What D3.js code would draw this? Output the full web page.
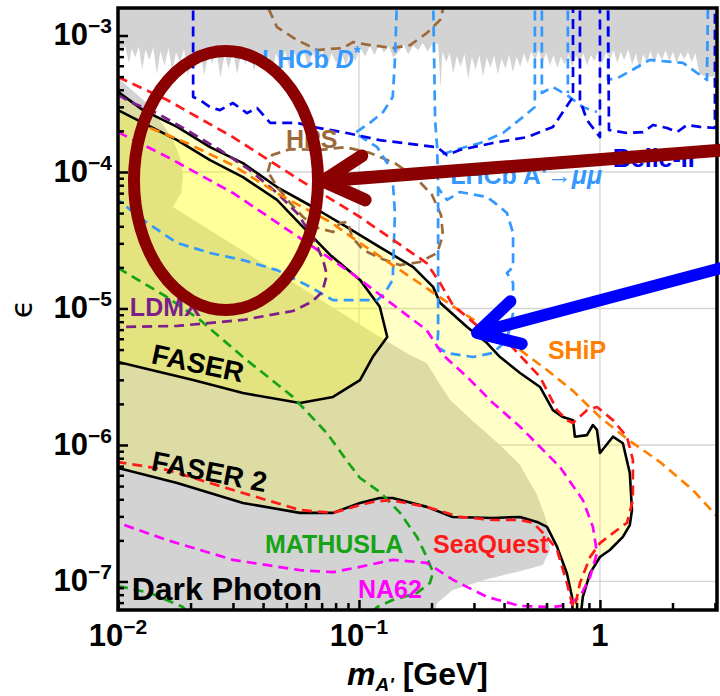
<!DOCTYPE html>
<html>
<head>
<meta charset="utf-8">
<script src="https://cdn.jsdelivr.net/npm/d3@7"></script>
<style>
  html, body { margin: 0; padding: 0; background: #fff; }
  svg { display: block; font-family: "Liberation Sans", Arial, sans-serif; }
</style>
</head>
<body>
<svg id="chart" width="720" height="696"></svg>
<script>
// values: [m_A' in GeV, epsilon]

// existing limits from above (jagged lower edge)
const topGrayEdge = [
  [0.0100,8.6e-4],[0.0104,7.4e-4],[0.0107,8.4e-4],[0.0111,6.3e-4],[0.0114,8.0e-4],[0.0118,6.9e-4],
  [0.0122,8.3e-4],[0.0126,5.6e-4],[0.0130,7.9e-4],[0.0135,6.6e-4],[0.0140,8.2e-4],[0.0145,5.2e-4],
  [0.0150,7.7e-4],[0.0156,6.0e-4],[0.0162,8.1e-4],[0.0168,5.4e-4],[0.0174,7.5e-4],[0.0181,6.4e-4],
  [0.0188,8.0e-4],[0.0195,5.0e-4],[0.0203,7.6e-4],[0.0211,5.8e-4],[0.0219,7.9e-4],[0.0228,5.1e-4],
  [0.0237,7.4e-4],[0.0246,6.2e-4],[0.0256,7.8e-4],[0.0266,4.9e-4],[0.0277,7.3e-4],[0.0288,5.7e-4],
  [0.0300,7.7e-4],[0.0312,5.2e-4],[0.0325,7.5e-4],[0.0338,6.1e-4],[0.0352,7.9e-4],[0.0367,5.5e-4],
  [0.0383,7.6e-4],[0.0399,6.3e-4],[0.0416,7.8e-4],[0.0434,5.4e-4],[0.0453,7.4e-4],[0.0473,6.0e-4],
  [0.0494,7.7e-4],[0.0516,5.6e-4],[0.0539,7.5e-4],[0.0563,6.4e-4],[0.0588,7.9e-4],[0.0615,5.8e-4],
  [0.0643,7.6e-4],[0.0672,6.2e-4],[0.0703,7.8e-4],[0.0735,5.7e-4],[0.0769,7.4e-4],[0.0805,6.3e-4],
  [0.0843,7.8e-4],[0.0882,6.0e-4],[0.0923,7.7e-4],[0.0966,6.5e-4],[0.101,8.2e-4],[0.106,7.0e-4],
  [0.111,8.4e-4],[0.116,7.2e-4],[0.121,8.5e-4],[0.127,7.5e-4],[0.133,8.3e-4],[0.139,6.9e-4],
  [0.146,7.6e-4],[0.153,8.6e-4],[0.160,7.3e-4],[0.168,8.4e-4],[0.176,7.8e-4],[0.184,8.8e-4],
  [0.193,7.6e-4],[0.202,8.8e-4],[0.213,8.7e-4],[0.218,4.1e-4],[0.222,7.6e-4],[0.230,6.4e-4],
  [0.238,7.4e-4],[0.246,5.3e-4],[0.255,7.1e-4],[0.264,5.9e-4],[0.274,7.3e-4],[0.284,4.8e-4],
  [0.294,7.0e-4],[0.305,5.6e-4],[0.316,7.2e-4],[0.327,5.0e-4],[0.339,6.9e-4],[0.351,5.8e-4],
  [0.364,7.1e-4],[0.377,5.2e-4],[0.391,6.8e-4],[0.405,5.7e-4],[0.420,7.2e-4],[0.435,5.4e-4],
  [0.451,7.0e-4],[0.467,5.9e-4],[0.484,7.4e-4],[0.501,6.2e-4],[0.519,7.6e-4],[0.538,6.6e-4],
  [0.557,7.8e-4],[0.577,6.3e-4],[0.598,7.5e-4],[0.620,6.0e-4],[0.642,7.2e-4],[0.665,5.8e-4],
  [0.689,7.0e-4],[0.714,6.1e-4],[0.740,7.3e-4],[0.767,5.9e-4],[0.795,7.1e-4],[0.824,6.4e-4],
  [0.853,7.4e-4],[0.884,6.0e-4],[0.916,7.2e-4],[0.949,6.5e-4],[0.983,7.6e-4],[1.02,6.2e-4],
  [1.06,7.5e-4],[1.10,6.7e-4],[1.14,7.8e-4],[1.18,6.3e-4],[1.22,7.6e-4],[1.26,6.6e-4],
  [1.31,7.9e-4],[1.36,6.1e-4],[1.41,7.4e-4],[1.46,5.6e-4],[1.51,7.3e-4],[1.57,6.4e-4],
  [1.62,7.7e-4],[1.68,6.2e-4],[1.74,7.5e-4],[1.81,6.6e-4],[1.87,7.8e-4],[1.94,6.5e-4],
  [2.01,7.6e-4],[2.08,6.3e-4],[2.16,7.5e-4],[2.24,6.7e-4],[2.32,7.6e-4],[2.40,6.4e-4],
  [2.49,7.4e-4],[2.58,5.3e-4],[2.68,5.1e-4],[2.78,5.0e-4],[2.88,5.0e-4],[3.2,5.0e-4]
];

// beam dump limits from below
const beamDump = [
  [0.009,4.89e-4],[0.0100,4.89e-4],[0.0118,3.79e-4],[0.0136,3.05e-4],[0.0149,2.40e-4],[0.0168,1.77e-4],
  [0.0181,1.27e-4],[0.0186,9.51e-5],[0.0183,7.02e-5],[0.0169,5.54e-5],[0.0321,2.73e-5],[0.0569,1.44e-5],
  [0.122,6.18e-6],[0.163,4.56e-6],[0.191,3.99e-6],[0.211,2.99e-6],[0.239,2.14e-6],[0.303,1.45e-6],
  [0.385,1.0e-6],[0.466,7.13e-7],[0.548,4.31e-7],[0.603,2.73e-7],[0.621,1.70e-7],[0.579,1.32e-7],
  [0.466,1.19e-7],[0.340,1.04e-7],[0.245,8.67e-8],[0.211,6.95e-8],[0.201,5e-8],[0.009,5e-8]
];

const faser2Region = [
  [0.0100,3.86e-4],[0.0127,2.84e-4],[0.0176,2.14e-4],[0.0241,1.52e-4],[0.0330,1.16e-4],[0.0457,7.76e-5],
  [0.0644,5.54e-5],[0.0891,3.95e-5],[0.122,2.82e-5],[0.168,2.01e-5],[0.203,1.44e-5],[0.217,1.10e-5],
  [0.281,7.32e-6],[0.340,5.58e-6],[0.385,4.41e-6],[0.466,3.37e-6],[0.564,2.66e-6],[0.638,1.80e-6],
  [0.702,1.60e-6],[0.773,1.52e-6],[0.787,1.15e-6],[0.883,1.18e-6],[0.935,1.40e-6],[0.972,1.29e-6],
  [1.00,8.73e-7],[1.132,1.15e-6],[1.245,1.03e-6],[1.33,6.24e-7],[1.358,3.34e-7],[1.33,2.59e-7],
  [1.245,2.12e-7],[1.099,1.70e-7],[1.00,1.51e-7],[0.910,1.15e-7],[0.849,7.7e-8],[0.826,5e-8],
  [0.773,5e-8],[0.766,7.7e-8],[0.729,1.15e-7],[0.664,1.79e-7],[0.603,2.51e-7],[0.548,2.73e-7],
  [0.466,2.97e-7],[0.360,2.92e-7],[0.245,2.97e-7],[0.191,3.52e-7],[0.138,4.09e-7],[0.122,4.09e-7],
  [0.101,3.76e-7],[0.078,3.18e-7],[0.0569,3.18e-7],[0.0330,3.76e-7],[0.0176,5.27e-7],[0.0100,6.79e-7]
];

const faserRegion = [
  [0.0100,2.84e-4],[0.0127,2.29e-4],[0.0176,1.71e-4],[0.0241,1.22e-4],[0.0330,9.18e-5],[0.0457,6.24e-5],
  [0.0569,4.16e-5],[0.0759,2.47e-5],[0.101,1.62e-5],[0.122,1.03e-5],[0.131,6.18e-6],[0.114,4.41e-6],
  [0.101,2.99e-6],[0.078,2.25e-6],[0.0569,2.03e-6],[0.0330,2.40e-6],[0.0205,2.99e-6],[0.0127,3.66e-6],
  [0.0100,4.06e-6]
];

const seaquest = [
  [0.0100,4.97e-4],[0.0160,3.37e-4],[0.0300,1.80e-4],[0.0569,8.73e-5],[0.101,4.68e-5],[0.191,2.15e-5],
  [0.217,1.54e-5],[0.245,1.06e-5],[0.318,7.19e-6],[0.424,5.41e-6],[0.564,3.15e-6],[0.664,1.80e-6],
  [0.729,1.52e-6],[0.773,1.45e-6],[0.883,1.80e-6],[0.972,1.90e-6],[1.132,1.52e-6],[1.294,1.15e-6],
  [1.37,7.76e-7],[1.37,3.95e-7],[1.294,2.69e-7],[1.132,2.26e-7],[1.00,1.91e-7],[0.910,1.51e-7],
  [0.826,9.75e-8],[0.787,6.50e-8],[0.773,6.50e-8],[0.729,9.75e-8],[0.664,1.70e-7],[0.603,2.12e-7],
  [0.527,2.69e-7],[0.466,2.82e-7],[0.360,2.82e-7],[0.262,2.97e-7],[0.191,3.52e-7],[0.135,3.95e-7],
  [0.114,3.82e-7],[0.101,3.63e-7],[0.078,3.18e-7],[0.0569,3.34e-7],[0.0300,4.68e-7],[0.0160,6.56e-7],
  [0.0100,7.50e-7]
];

const ship = [
  [0.0136,2.10e-4],[0.0193,1.63e-4],[0.0300,1.12e-4],[0.0470,6.79e-5],[0.0759,4.31e-5],[0.101,3.02e-5],
  [0.138,2.08e-5],[0.191,1.41e-5],[0.262,9.59e-6],[0.360,6.73e-6],[0.466,4.97e-6],[0.603,3.54e-6],
  [0.773,2.49e-6],[1.00,1.60e-6],[1.294,1.11e-6],[1.775,7.50e-7],[2.43,4.68e-7],[3.30,2.59e-7]
];

const na62 = [
  [0.0100,1.96e-4],[0.0160,1.29e-4],[0.0300,7.02e-5],[0.0569,3.28e-5],[0.0918,1.85e-5],[0.148,9.75e-6],
  [0.191,6.95e-6],[0.223,4.56e-6],[0.281,3.15e-6],[0.360,2.03e-6],[0.466,1.36e-6],[0.682,6.90e-7],
  [0.849,3.95e-7],[0.935,2.51e-7],[0.972,1.62e-7],[0.910,1.08e-7],[0.826,7.7e-8],[0.729,6.73e-8],
  [0.638,6.50e-8],[0.466,6.62e-8],[0.340,7.7e-8],[0.245,1.03e-7],[0.191,1.37e-7],[0.138,1.44e-7],
  [0.101,1.28e-7],[0.078,1.17e-7],[0.0569,1.21e-7],[0.0300,1.44e-7],[0.0160,2.01e-7],[0.0100,2.69e-7]
];

const lhcbDstar = [
  [0.144,2e-3],[0.141,6.62e-4],[0.138,3.54e-4],[0.126,2.75e-4],[0.111,2.29e-4],[0.0962,1.93e-4],
  [0.119,1.52e-4],[0.131,1.16e-4],[0.138,8.73e-5],[0.141,5.01e-5],[0.138,1.62e-5],[0.128,1.30e-5],
  [0.119,1.15e-5],[0.108,1.15e-5],[0.078,1.15e-5],[0.0627,1.44e-5],[0.0457,1.91e-5],[0.0330,2.26e-5],
  [0.0241,2.55e-5],[0.0176,3.02e-5],[0.0127,4.45e-5],[0.0100,6.24e-5]
];
const lhcbMuMu = [
  [0.203,2e-3],[0.207,2.40e-4],[0.211,1.52e-4],[0.213,7.76e-5],[0.213,2.01e-5],[0.213,6.62e-6],
  [0.211,5.22e-6],[0.232,4.72e-6],[0.297,4.41e-6],[0.360,4.72e-6],[0.411,5.87e-6],[0.436,9.27e-6],
  [0.436,1.54e-5],[0.411,1.82e-5],[0.436,2.01e-5],[0.436,3.57e-5],[0.411,5.01e-5],[0.385,5.54e-5],
  [0.340,6.56e-5],[0.262,7.13e-5],[0.232,6.24e-5],[0.213,7.64e-5]
];
const lhcbMid = [[0.537,2e-3],[0.537,2.99e-4],[0.479,2.53e-4],[0.396,1.93e-4],[0.318,1.63e-4],[0.250,1.45e-4],[0.217,1.33e-4]];
const lhcbSlit = [[0.574,2e-3],[0.574,3.79e-4],[0.638,4.20e-4],[0.729,3.66e-4],[0.849,2.99e-4],[0.972,2.75e-4]];
const lhcbSlit2 = [[0.736,2e-3],[0.736,3.79e-4]];
const lhcbHigh = [[1.08,2e-3],[1.08,4.72e-4],[1.21,4.97e-4],[1.61,6.62e-4],[2.21,6.30e-4],[2.78,4.72e-4],[2.81,2e-3]];

const belleA = [
  [0.0205,2e-3],[0.0205,3.54e-4],[0.0219,3.37e-4],[0.0241,2.99e-4],[0.0265,2.84e-4],[0.0300,3.20e-4],
  [0.0343,2.70e-4],[0.0378,2.94e-4],[0.0428,2.29e-4],[0.0553,2.29e-4],[0.0644,2.14e-4],[0.0891,1.93e-4],
  [0.122,1.71e-4],[0.211,1.52e-4],[0.232,1.33e-4],[0.262,1.45e-4],[0.360,1.63e-4],[0.498,1.80e-4],
  [0.638,2.14e-4],[0.773,3.54e-4],[0.773,2e-3]
];
const belleB = [[0.826,2e-3],[0.826,3.37e-4],[0.883,2.40e-4],[1.00,1.80e-4],[1.00,2e-3]];
const belleC = [
  [1.08,2e-3],[1.09,2.03e-4],[1.294,1.93e-4],[1.51,1.96e-4],[1.66,2.21e-4],[1.90,2.10e-4],
  [2.09,1.96e-4],[2.30,2.21e-4],[2.60,2.14e-4],[3.00,2.10e-4],[3.00,2e-3]
];

const hpsTop = [
  [0.0396,2e-3],[0.0457,1.15e-3],[0.0553,9.27e-4],[0.0670,7.83e-4],[0.0859,8.09e-4],[0.0944,8.95e-4],
  [0.111,8.51e-4],[0.138,8.09e-4],[0.163,8.51e-4],[0.191,1.04e-3],[0.217,1.30e-3],[0.232,2e-3]
];
const hpsLoop = [
  [0.0419,1.00e-4],[0.0436,1.33e-4],[0.0518,1.47e-4],[0.0689,1.45e-4],[0.0875,1.52e-4],[0.111,1.38e-4],
  [0.141,1.16e-4],[0.171,9.18e-5],[0.201,6.79e-5],[0.219,4.84e-5],[0.223,3.45e-5],[0.211,2.55e-5],
  [0.179,2.19e-5],[0.148,2.08e-5],[0.122,2.34e-5],[0.104,2.69e-5],[0.0935,3.34e-5],[0.0900,4.31e-5],
  [0.0834,4.23e-5],[0.078,3.63e-5],[0.0676,3.89e-5],[0.0586,4.68e-5],[0.0518,5.93e-5],[0.0461,7.64e-5],
  [0.0419,1.00e-4]
];

const ldmx = [
  [0.0100,3.66e-4],[0.0115,3.20e-4],[0.0145,2.70e-4],[0.0193,2.03e-4],[0.0265,1.45e-4],[0.0353,1.03e-4],
  [0.0457,7.02e-5],[0.0553,5.01e-5],[0.0644,3.34e-5],[0.0710,2.26e-5],[0.0736,1.76e-5],[0.0703,1.32e-5],
  [0.0638,1.12e-5],[0.0532,9.59e-6],[0.0330,8.24e-6],[0.0176,7.45e-6],[0.0100,7.32e-6]
];

const mathusla = [
  [0.0100,1.98e-5],[0.0160,1.21e-5],[0.0219,8.24e-6],[0.0330,4.41e-6],[0.0532,2.25e-6],[0.0736,1.22e-6],
  [0.0918,7.13e-7],[0.101,5.73e-7],[0.122,4.53e-7],[0.148,3.18e-7],[0.174,2.12e-7],[0.191,1.51e-7],
  [0.203,1.17e-7],[0.197,9.75e-8],[0.174,8.24e-8],[0.138,7.31e-8],[0.119,6.50e-8],[0.101,5e-8]
];
const mathuslaLow = [[0.0100,9.27e-8],[0.0136,8.24e-8],[0.0186,6.50e-8],[0.0209,5e-8]];

// axis ticks
const xTickLabels = [[0.01,"10","\u22122"],[0.1,"10","\u22121"],[1,"1",""]];
const yTickLabels = [[1e-3,"10","\u22123"],[1e-4,"10","\u22124"],[1e-5,"10","\u22125"],[1e-6,"10","\u22126"],[1e-7,"10","\u22127"]];
const xDecades = [0.01, 0.1, 1];
const yDecades = [1e-8, 1e-7, 1e-6, 1e-5, 1e-4, 1e-3];
const mantissas = [1, 2, 3, 4, 5, 6, 7, 8, 9];

const C = {
  red: "#ff1a1a", orange: "#ff8000", magenta: "#ff00ff", lblue: "#3399ff",
  dblue: "#0000ee", brown: "#9c6a3a", purple: "#7d1f8a", green: "#16a316",
  gray: "#d3d3d3", annot: "#8b0000"
};

// labels: anchor [m, eps], parts [text, style]
const labels = [
  { at: [0.0396, 5.78e-4], color: C.lblue, parts: [["LHCb ", ""], ["D", "i"], ["*", "sup"]] },
  { at: [0.0498, 1.50e-4], color: C.brown, parts: [["HPS", ""]] },
  { at: [0.239, 8.17e-5], color: C.lblue, parts: [["LHCb A'\u2192", ""], ["\u03bc\u03bc", "i"]] },
  { at: [1.13, 1.09e-4], color: C.dblue, parts: [["Belle-II", ""]] },
  { at: [0.608, 4.27e-6], color: C.orange, parts: [["SHiP", ""]] },
  { at: [0.0112, 8.81e-6], color: C.purple, parts: [["LDMX", ""]] },
  { at: [0.0136, 3.99e-6], color: "#000", parts: [["FASER", ""]], angle: 12, size: 28 },
  { at: [0.0136, 6.56e-7], color: "#000", parts: [["FASER 2", ""]], angle: 11, size: 28 },
  { at: [0.0407, 1.62e-7], color: C.green, parts: [["MATHUSLA", ""]] },
  { at: [0.203, 1.62e-7], color: C.red, parts: [["SeaQuest", ""]] },
  { at: [0.0991, 7.57e-8], color: C.magenta, parts: [["NA62", ""]] },
  { at: [0.0114, 7.31e-8], color: "#000", parts: [["Dark Photon", ""]], size: 32 }
];

// annotation ring and arrows
const ringBox = { mLeft: 0.01165, mRight: 0.0676, eTop: 7.69e-4, eBottom: 9.75e-6 };
const arrows = [
  { from: [3.3, 1.45e-4], to: [0.0710, 8.59e-5], color: C.annot, width: 13 },
  { from: [3.3, 2.01e-5], to: [0.309, 6.62e-6], color: "#0000ff", width: 12 }
];

/* ------------------ setup ------------------ */

const W = 720, H = 696;
const margin = { top: 8, right: 3, bottom: 86, left: 118 };
const svg = d3.select("#chart");

const x = d3.scaleLog().domain([0.01, 3.06]).range([margin.left, W - margin.right]);
const y = d3.scaleLog().domain([1.59e-3, 6.18e-8]).range([margin.top, H - margin.bottom]);

const line = d3.line().x(d => x(d[0])).y(d => y(d[1]));

svg.append("defs").append("clipPath").attr("id", "clip")
  .append("rect")
  .attr("x", margin.left).attr("y", margin.top)
  .attr("width", W - margin.left - margin.right)
  .attr("height", H - margin.top - margin.bottom);

const plot = svg.append("g").attr("clip-path", "url(#clip)");

/* ------------------ grid ------------------ */

plot.selectAll(".gx").data([0.1, 1]).join("line")
  .attr("x1", d => x(d)).attr("x2", d => x(d))
  .attr("y1", margin.top).attr("y2", H - margin.bottom)
  .attr("stroke", "#d4d4d4").attr("stroke-width", 1.3);

plot.selectAll(".gy").data([1e-7, 1e-6, 1e-5, 1e-4, 1e-3]).join("line")
  .attr("x1", margin.left).attr("x2", W - margin.right)
  .attr("y1", d => y(d)).attr("y2", d => y(d))
  .attr("stroke", "#d4d4d4").attr("stroke-width", 1.3);

/* ------------------ filled regions ------------------ */

plot.append("path")
  .attr("d", line([[0.009, 3e-3], [0.009, topGrayEdge[0][1]], ...topGrayEdge, [3.5, 5e-4], [3.5, 3e-3]]) + "Z")
  .attr("fill", C.gray);

plot.append("path")
  .attr("d", line(beamDump) + "Z")
  .attr("fill", C.gray);

[faser2Region, faserRegion].forEach(r => {
  plot.append("path")
    .attr("d", line(r) + "Z")
    .attr("fill", "#ffff00")
    .attr("fill-opacity", 0.22);
});

/* ------------------ curves ------------------ */

[faser2Region, faserRegion].forEach(r => {
  plot.append("path")
    .attr("d", line(r))
    .attr("fill", "none")
    .attr("stroke", "#000")
    .attr("stroke-width", 2.6)
    .attr("stroke-linejoin", "round");
});

const dashed = [
  [hpsTop, C.brown], [hpsLoop, C.brown],
  [lhcbDstar, C.lblue], [lhcbMuMu, C.lblue], [lhcbMid, C.lblue],
  [lhcbSlit, C.lblue], [lhcbSlit2, C.lblue], [lhcbHigh, C.lblue],
  [belleA, C.dblue], [belleB, C.dblue], [belleC, C.dblue],
  [mathusla, C.green], [mathuslaLow, C.green],
  [na62, C.magenta],
  [ldmx, C.purple],
  [ship, C.orange],
  [seaquest, C.red]
];

dashed.forEach(([data, color]) => {
  plot.append("path")
    .attr("d", line(data))
    .attr("fill", "none")
    .attr("stroke", color)
    .attr("stroke-width", 2.7)
    .attr("stroke-dasharray", "10,6")
    .attr("stroke-linejoin", "round");
});

/* ------------------ labels ------------------ */

labels.forEach(l => {
  const size = l.size || 25;
  const px = x(l.at[0]), py = y(l.at[1]);
  const t = svg.append("text")
    .attr("x", px).attr("y", py)
    .attr("fill", l.color)
    .attr("font-size", size)
    .attr("font-weight", "bold");
  if (l.angle) t.attr("transform", `rotate(${l.angle},${px},${py})`);
  l.parts.forEach(([s, style]) => {
    const ts = t.append("tspan").text(s);
    if (style === "i") ts.attr("font-style", "italic");
    if (style === "sup") ts.attr("font-size", size * 0.7).attr("dy", -9);
  });
});

/* ------------------ axes ------------------ */

const isMajor = d => Math.abs(Math.log10(d) - Math.round(Math.log10(d))) < 1e-6;

const xTicks = xDecades.flatMap(dec => mantissas.map(k => k * dec)).filter(v => v >= 0.01 && v <= 3.06);
const yTicks = yDecades.flatMap(dec => mantissas.map(k => k * dec)).filter(v => v >= 6.18e-8 && v <= 1.59e-3);

const xAxis = svg.append("g")
  .attr("transform", `translate(0,${H - margin.bottom})`)
  .call(d3.axisBottom(x).tickValues(xTicks).tickSize(-7).tickFormat(""));
xAxis.select(".domain").remove();
xAxis.selectAll(".tick line")
  .attr("stroke", "#000").attr("stroke-width", 2.5)
  .attr("y2", d => isMajor(d) ? -10 : -7);

const yAxis = svg.append("g")
  .attr("transform", `translate(${margin.left},0)`)
  .call(d3.axisLeft(y).tickValues(yTicks).tickSize(-6).tickFormat(""));
yAxis.select(".domain").remove();
yAxis.selectAll(".tick line")
  .attr("stroke", "#000").attr("stroke-width", 2.5)
  .attr("x2", d => isMajor(d) ? 10 : 6);

// frame
svg.append("rect")
  .attr("x", margin.left).attr("y", margin.top)
  .attr("width", W - margin.left - margin.right)
  .attr("height", H - margin.top - margin.bottom)
  .attr("fill", "none").attr("stroke", "#000").attr("stroke-width", 3.5);

// tick labels
yTickLabels.forEach(([v, base, exp]) => {
  const t = svg.append("text")
    .attr("x", margin.left - 6).attr("y", y(v) + 10)
    .attr("text-anchor", "end")
    .attr("font-weight", "bold");
  t.append("tspan").attr("font-size", 31).text(base);
  t.append("tspan").attr("font-size", 21).attr("dy", -12).text(exp);
});

xTickLabels.forEach(([v, base, exp]) => {
  const t = svg.append("text")
    .attr("x", x(v)).attr("y", H - margin.bottom + 36)
    .attr("text-anchor", "middle")
    .attr("font-weight", "bold");
  t.append("tspan").attr("font-size", 31).text(base);
  if (exp) t.append("tspan").attr("font-size", 21).attr("dy", -12).text(exp);
});

// axis titles
svg.append("text")
  .attr("transform", `translate(32,${(margin.top + H - margin.bottom) / 2}) rotate(-90)`)
  .attr("text-anchor", "middle")
  .attr("font-family", "DejaVu Sans")
  .attr("font-size", 30)
  .text("\u03f5");

const xt = svg.append("text")
  .attr("x", (margin.left + W - margin.right) / 2).attr("y", 685)
  .attr("text-anchor", "middle")
  .attr("font-weight", "bold")
  .attr("font-size", 32);
xt.append("tspan").attr("font-style", "italic").text("m");
xt.append("tspan").attr("font-style", "italic").attr("font-size", 19).attr("dy", 6).text("A'");
xt.append("tspan").attr("dy", -6).text(" [GeV]");

/* ------------------ annotations ------------------ */

const rx0 = x(ringBox.mLeft), rx1 = x(ringBox.mRight);
const ry0 = y(ringBox.eTop), ry1 = y(ringBox.eBottom);
svg.append("ellipse")
  .attr("cx", (rx0 + rx1) / 2).attr("cy", (ry0 + ry1) / 2)
  .attr("rx", (rx1 - rx0) / 2).attr("ry", (ry1 - ry0) / 2)
  .attr("fill", "none").attr("stroke", C.annot).attr("stroke-width", 12);

arrows.forEach(a => {
  const x1 = x(a.from[0]), y1 = y(a.from[1]);
  const x2 = x(a.to[0]), y2 = y(a.to[1]);
  const ang = Math.atan2(y1 - y2, x1 - x2);
  const L = 46, h = 0.5;
  const b1 = [x2 + L * Math.cos(ang + h), y2 + L * Math.sin(ang + h)];
  const b2 = [x2 + L * Math.cos(ang - h), y2 + L * Math.sin(ang - h)];
  svg.append("path")
    .attr("d", `M${x1},${y1}L${x2},${y2}M${b1[0]},${b1[1]}L${x2},${y2}L${b2[0]},${b2[1]}`)
    .attr("fill", "none")
    .attr("stroke", a.color)
    .attr("stroke-width", a.width)
    .attr("stroke-linecap", "round")
    .attr("stroke-linejoin", "round");
});
</script>
</body>
</html>
